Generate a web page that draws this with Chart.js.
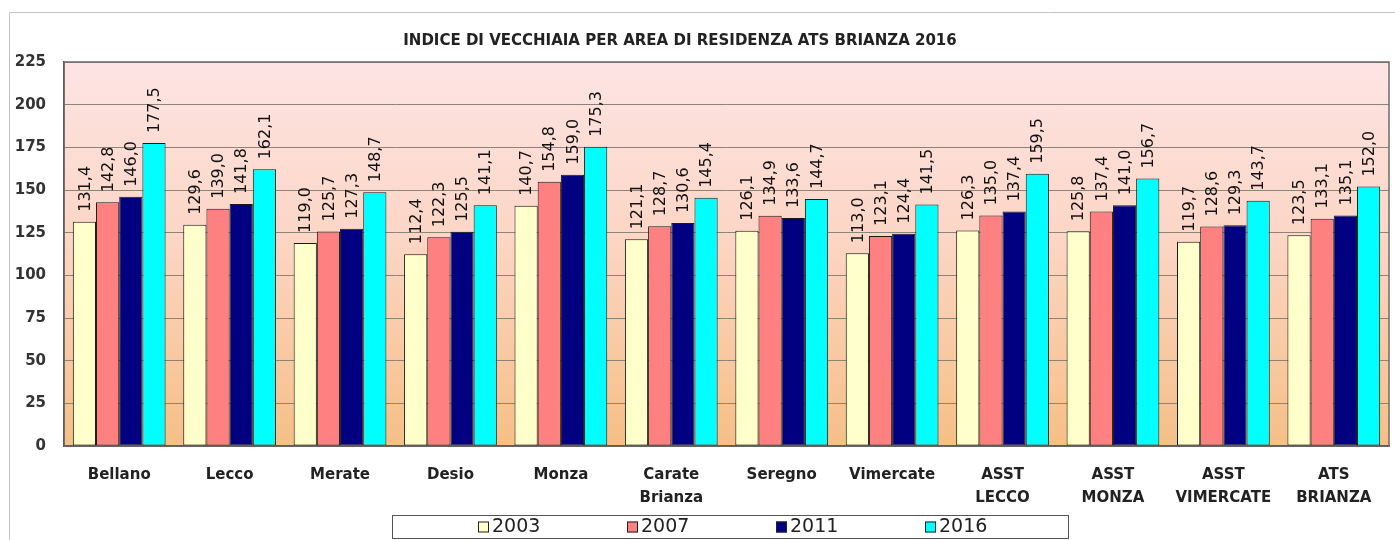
<!DOCTYPE html>
<html>
<head>
<meta charset="utf-8">
<script src="https://cdn.jsdelivr.net/npm/chart.js@4.4.1/dist/chart.umd.min.js"></script>
<style>
  html, body { margin: 0; padding: 0; background: #fff; }
  #wrap { width: 1395px; height: 540px; }
</style>
</head>
<body>
<div id="wrap"><canvas id="vecchiaia" width="1395" height="540"></canvas></div>
<script>
const categories = [
  'Bellano', 'Lecco', 'Merate', 'Desio', 'Monza', ['Carate', 'Brianza'],
  'Seregno', 'Vimercate', ['ASST', 'LECCO'], ['ASST', 'MONZA'],
  ['ASST', 'VIMERCATE'], ['ATS', 'BRIANZA']
];
const years = ['2003', '2007', '2011', '2016'];
const values2003 = [131.4, 129.6, 119.0, 112.4, 140.7, 121.1, 126.1, 113.0, 126.3, 125.8, 119.7, 123.5];
const values2007 = [142.8, 139.0, 125.7, 122.3, 154.8, 128.7, 134.9, 123.1, 135.0, 137.4, 128.6, 133.1];
const values2011 = [146.0, 141.8, 127.3, 125.5, 159.0, 130.6, 133.6, 124.4, 137.4, 141.0, 129.3, 135.1];
const values2016 = [177.5, 162.1, 148.7, 141.1, 175.3, 145.4, 144.7, 141.5, 159.5, 156.7, 143.7, 152.0];
const yMin = 0, yMax = 225, yStep = 25;
const chartTitle = 'INDICE DI VECCHIAIA PER AREA DI RESIDENZA ATS BRIANZA 2016';

const seriesColors = ['#ffffcc', '#ff8080', '#000080', '#00ffff'];
const fmt = v => v.toFixed(1).replace('.', ',');

const backdrop = {
  id: 'backdrop',
  // white page, thin outer frame, title, gradient plot background
  beforeDraw(chart) {
    const { ctx, chartArea: a } = chart;
    ctx.save();
    ctx.fillStyle = '#ffffff';
    ctx.fillRect(0, 0, chart.width, chart.height);
    ctx.strokeStyle = '#c4c4c4';
    ctx.lineWidth = 1;
    ctx.beginPath();
    ctx.moveTo(9.5, chart.height);
    ctx.lineTo(9.5, 12.5);
    ctx.lineTo(chart.width, 12.5);
    ctx.stroke();

    // title sits a bit left of the plot centre, as in the Excel original
    ctx.fillStyle = '#222';
    ctx.font = 'bold 15px "DejaVu Sans"';
    ctx.textAlign = 'center';
    ctx.textBaseline = 'middle';
    ctx.fillText(chartTitle, 680, 41);

    const g = ctx.createLinearGradient(0, a.top, 0, a.bottom);
    g.addColorStop(0, '#fde4e4');
    g.addColorStop(0.45, '#fcd6c6');
    g.addColorStop(1, '#f5bf86');
    ctx.fillStyle = g;
    ctx.fillRect(a.left, a.top, a.right - a.left, a.bottom - a.top);
    ctx.restore();
  },
  afterDatasetsDraw(chart) {
    const { ctx, chartArea: a } = chart;
    ctx.save();
    ctx.strokeStyle = '#6b6b6b';
    ctx.lineWidth = 1.5;
    ctx.strokeRect(a.left, a.top, a.right - a.left, a.bottom - a.top);

    // rotated value labels above each bar
    ctx.fillStyle = '#111';
    ctx.font = '16px "DejaVu Sans"';
    ctx.textAlign = 'left';
    ctx.textBaseline = 'middle';
    chart.data.datasets.forEach((ds, i) => {
      chart.getDatasetMeta(i).data.forEach((bar, j) => {
        ctx.save();
        ctx.translate(bar.x + 1, bar.y - 10);
        ctx.rotate(-Math.PI / 2);
        ctx.fillText(fmt(ds.data[j]), 0, 0);
        ctx.restore();
      });
    });
    ctx.restore();
  },
  // boxed legend under the category labels
  afterDraw(chart) {
    const { ctx } = chart;
    const box = { left: 392, top: 515, width: 676, height: 23 };
    ctx.save();
    ctx.fillStyle = '#ffffff';
    ctx.fillRect(box.left, box.top, box.width, box.height);
    ctx.strokeStyle = '#555';
    ctx.lineWidth = 1;
    ctx.strokeRect(box.left + 0.5, box.top + 0.5, box.width, box.height);
    ctx.font = '19px "DejaVu Sans"';
    ctx.textBaseline = 'middle';
    ctx.textAlign = 'left';
    const cy = box.top + box.height / 2 + 1;
    const mid = box.left + box.width / 2 + 3;
    chart.data.datasets.forEach((ds, i) => {
      const tw = ctx.measureText(ds.label).width;
      const w = 11 + 3 + tw;
      const x0 = Math.round(mid + (i - 1.5) * 149 - w / 2);
      ctx.fillStyle = ds.backgroundColor;
      ctx.fillRect(x0, cy - 6, 11, 11);
      ctx.strokeStyle = '#222';
      ctx.strokeRect(x0 + 0.5, cy - 5.5, 10, 10);
      ctx.fillStyle = '#222';
      ctx.fillText(ds.label, x0 + 14, cy);
    });
    ctx.restore();
  }
};

const ctx = document.getElementById('vecchiaia').getContext('2d');
new Chart(ctx, {
  type: 'bar',
  data: {
    labels: categories,
    datasets: [values2003, values2007, values2011, values2016].map((d, i) => ({
      label: years[i],
      data: d,
      backgroundColor: seriesColors[i],
      borderColor: '#1a1a1a',
      borderWidth: 1,
      borderSkipped: false,
      categoryPercentage: 0.84,
      barPercentage: 1.0
    }))
  },
  options: {
    responsive: false,
    animation: false,
    layout: { padding: { left: 9, right: 6, top: 62, bottom: 25 } },
    plugins: {
      title: { display: false },
      legend: { display: false },
      tooltip: { enabled: false }
    },
    scales: {
      x: {
        grid: { display: false },
        border: { color: '#333', width: 1.5 },
        ticks: {
          color: '#222',
          padding: 10,
          font: { family: '"DejaVu Sans"', size: 15, weight: 'bold', lineHeight: 1.5 },
          maxRotation: 0,
          autoSkip: false
        },
        afterFit: s => { s.height = 69; }
      },
      y: {
        min: yMin,
        max: yMax,
        grid: { color: '#8d8478', lineWidth: 1, drawTicks: false },
        border: { color: '#333', width: 1.5 },
        ticks: {
          stepSize: yStep,
          padding: 18,
          color: '#333',
          font: { family: '"DejaVu Sans"', size: 15, weight: 'bold' }
        },
        afterFit: s => { s.width = 55; }
      }
    }
  },
  plugins: [backdrop]
});
</script>
</body>
</html>
